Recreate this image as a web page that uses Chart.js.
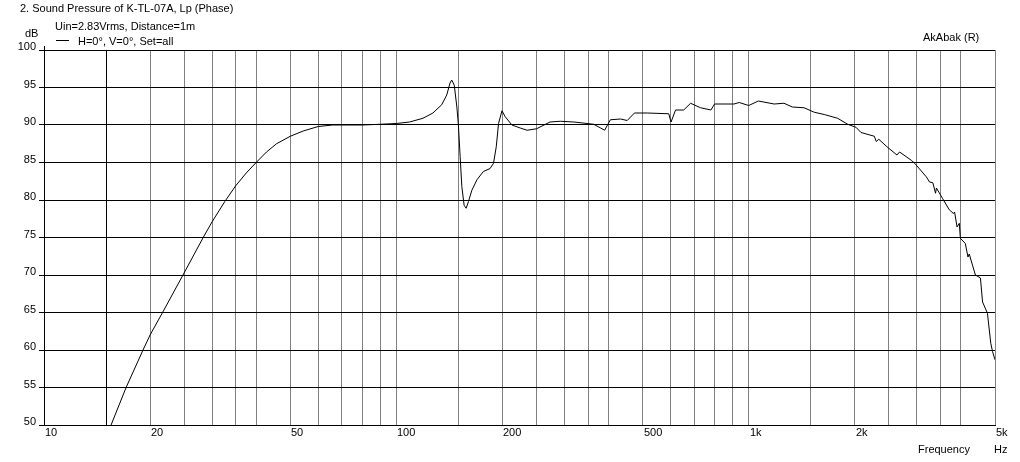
<!DOCTYPE html>
<html><head><meta charset="utf-8">
<script src="https://cdn.jsdelivr.net/npm/chart.js@4/dist/chart.umd.min.js"></script>
<style>html,body{margin:0;padding:0;background:#fff}canvas{display:block}</style>
</head><body>
<canvas id="c" width="1020" height="462" style="width:1020px;height:462px"></canvas>
<script>
const freqs = [15.5,17.1,19.1,20,21.7,24.8,28.3,30,32.6,35,37.5,40,42.8,45.7,50,54.4,60,66,70,80,90,100,109,119,127,134.5,139,142,143.6,146,148.5,150,151.7,153.4,155.7,157.8,160.2,163.8,169.3,176.6,184.5,188.7,192.1,195,199.4,203.7,212.8,224.7,235,250,273,292,319,363,380,390,405,433,452,474,515,593,602,620,654,684,730,781,800,908,940,1000,1065,1181,1259,1330,1436,1535,1638,1787,1909,2015,2083,2273,2301,2340,2468,2635,2680,2893,2957,3191,3260,3331,3390,3410,3550,3709,3810,3840,3902,3960,3987,4119,4190,4225,4399,4546,4610,4759,4864,4920,5000];
const spl = [50,55,60,62,65,70,75,77.1,79.8,81.9,83.6,85,86.4,87.5,88.5,89.2,89.8,90.0,90.0,90.0,90.1,90.2,90.4,90.9,91.6,92.7,94,95.6,96.0,95.3,92.4,90,85.8,81.8,79.3,78.9,79.8,81.3,82.7,83.8,84.2,84.9,87.1,90.2,91.9,91.1,90.0,89.6,89.3,89.5,90.4,90.5,90.4,90.1,89.6,89.3,90.7,90.8,90.6,91.6,91.6,91.5,90.4,92.0,92.0,92.9,92.3,92.0,92.8,92.8,93.0,92.6,93.2,92.8,92.9,92.4,92.3,91.7,91.4,90.9,90.1,89.7,89.0,88.5,87.8,88.1,87.1,86.0,86.4,85.3,84.9,83.1,82.4,82.3,80.9,81.6,80.2,78.7,78.2,78.4,76.4,76.9,74.9,74.2,72.4,72.8,70.0,69.6,66.4,64.9,60.9,59.8,58.7];
const xGridValues = [10,15,20,25,30,35,40,50,60,70,80,90,100,150,200,250,300,350,400,500,600,700,800,900,1000,1500,2000,2500,3000,3500,4000,5000];
const xMarkerValue = 15;
const xLabelValues = [10,20,50,100,200,500,1000,2000,5000];
const xLabelTexts = ['10','20','50','100','200','500','1k','2k','5k'];
const yTickValues = [50,55,60,65,70,75,80,85,90,95,100];
const titleText = '2. Sound Pressure of K-TL-07A, Lp (Phase)';
const subtitleText = 'Uin=2.83Vrms, Distance=1m';
const legendText = 'H=0°, V=0°, Set=all';
const brandText = 'AkAbak (R)';
const yUnitText = 'dB';
const xTitleText = 'Frequency';
const xUnitText = 'Hz';

const FONT = '11px "Liberation Sans", Arial, sans-serif';

const textPlugin = {
  id: 'texts',
  afterDraw(chart) {
    const ctx = chart.ctx;
    const xs = chart.scales.x, ys = chart.scales.y;
    ctx.save();
    ctx.font = FONT;
    ctx.fillStyle = '#000';
    ctx.textBaseline = 'alphabetic';
    ctx.textAlign = 'left';
    ctx.fillText(titleText, 20, 12);
    ctx.fillText(subtitleText, 55, 30);
    ctx.fillText(yUnitText, 25, 37);
    ctx.fillText(legendText, 78, 45);
    ctx.fillText(brandText, 923, 41);
    ctx.fillText(xTitleText, 918, 453);
    ctx.fillText(xUnitText, 994, 453);
    ctx.strokeStyle = '#000';
    ctx.lineWidth = 1;
    ctx.beginPath();
    ctx.moveTo(56, 40.5); ctx.lineTo(69, 40.5);
    const ax = Math.round(chart.chartArea.left) + 0.5;
    ctx.moveTo(ax, 46); ctx.lineTo(ax, chart.chartArea.top);
    ctx.stroke();
    ctx.textAlign = 'right';
    yTickValues.forEach(v => {
      ctx.fillText(String(v), 36, Math.round(ys.getPixelForValue(v)));
    });
    ctx.textAlign = 'left';
    xLabelValues.forEach((v, i) => {
      ctx.fillText(xLabelTexts[i], Math.round(xs.getPixelForValue(v)) + 1, 436);
    });
    ctx.restore();
  }
};

new Chart(document.getElementById('c'), {
  type: 'line',
  data: {
    datasets: [{
      data: freqs.map((f, i) => ({x: f, y: spl[i]})),
      borderColor: '#000',
      borderWidth: 1,
      pointRadius: 0,
      tension: 0,
      fill: false
    }]
  },
  options: {
    responsive: false,
    animation: false,
    devicePixelRatio: 1,
    layout: {padding: {left: 39, right: 25, top: 50, bottom: 37}},
    plugins: {legend: {display: false}, tooltip: {enabled: false}},
    scales: {
      x: {
        type: 'logarithmic',
        min: 10, max: 5000,
        afterBuildTicks: s => { s.ticks = xGridValues.map(v => ({value: v})); },
        ticks: {display: false},
        grid: {
          color: c => (c.tick && c.tick.value === xMarkerValue) ? '#000' : '#808080',
          drawTicks: false,
          lineWidth: 1
        },
        border: {display: true, color: '#000'}
      },
      y: {
        type: 'linear',
        min: 50, max: 100,
        afterBuildTicks: s => { s.ticks = yTickValues.map(v => ({value: v})); },
        ticks: {display: false},
        grid: {color: '#000', drawTicks: true, tickLength: 5, tickColor: '#000', lineWidth: 1},
        border: {display: true, color: '#000'}
      }
    }
  },
  plugins: [textPlugin]
});
</script>
</body></html>
